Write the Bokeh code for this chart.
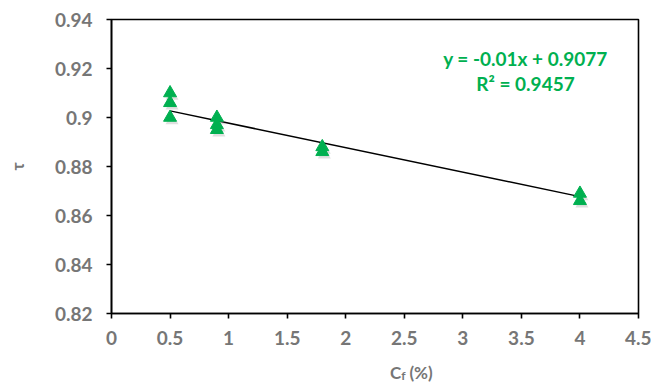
from bokeh.plotting import figure
from bokeh.layouts import column
from bokeh.models import ColumnDataSource, Range1d, Label, FixedTicker
from bokeh.core.properties import value
from bokeh.transform import dodge
from bokeh.embed import file_html
from bokeh.resources import INLINE

# Measurements: fiber content Cf (%) vs tortuosity tau
cf = [0.5, 0.5, 0.5, 0.9, 0.9, 0.9, 1.8, 1.8, 4.0, 4.0]
tau = [0.910, 0.906, 0.900, 0.900, 0.897, 0.895, 0.888, 0.886, 0.869, 0.866]

# Linear trend line as stated in the equation
slope = -0.01
intercept = 0.9077
r_squared = 0.9457
trend_x = [0.5, 4.0]

x_ticks = [0, 0.5, 1, 1.5, 2, 2.5, 3, 3.5, 4, 4.5]
y_ticks = [0.82, 0.84, 0.86, 0.88, 0.90, 0.92, 0.94]
x_tick_labels = {0: "0", 0.5: "0.5", 1: "1", 1.5: "1.5", 2: "2", 2.5: "2.5",
                 3: "3", 3.5: "3.5", 4: "4", 4.5: "4.5"}
y_tick_labels = {0.82: "0.82", 0.84: "0.84", 0.86: "0.86", 0.88: "0.88",
                 0.9: "0.9", 0.92: "0.92", 0.94: "0.94"}

GREEN = "#00B050"
GREY = "#767676"
FONT = "Lato"

p = figure(width=651, height=358, output_backend="svg", toolbar_location=None,
           x_range=Range1d(0, 4.5), y_range=Range1d(0.82, 0.94),
           min_border_left=111, min_border_right=13, min_border_top=19,
           min_border_bottom=45)
p.outline_line_color = "black"
p.outline_line_width = 1.6
p.xgrid.visible = False
p.ygrid.visible = False
p.background_fill_color = "white"
p.border_fill_color = "white"

for ax in (p.xaxis[0], p.yaxis[0]):
    ax.axis_line_color = "black"
    ax.axis_line_width = 1.6
    ax.major_tick_line_color = "black"
    ax.major_tick_line_width = 1.6
    ax.major_tick_out = 5
    ax.major_tick_in = 0
    ax.minor_tick_line_color = None
    ax.major_label_text_font = FONT
    ax.major_label_text_font_style = "bold"
    ax.major_label_text_font_size = "19px"
    ax.major_label_text_color = GREY

p.xaxis.ticker = FixedTicker(ticks=x_ticks)
p.yaxis.ticker = FixedTicker(ticks=y_ticks)
p.xaxis.major_label_overrides = x_tick_labels
p.yaxis.major_label_overrides = y_tick_labels
p.xaxis.major_label_standoff = 12
p.yaxis.major_label_standoff = 14

p.yaxis.axis_label = "τ"
p.yaxis.axis_label_text_font = FONT
p.yaxis.axis_label_text_font_style = "bold"
p.yaxis.axis_label_text_font_size = "17px"
p.yaxis.axis_label_text_color = GREY
p.yaxis.axis_label_standoff = 24

# Trend line
trend_y = [slope * x + intercept for x in trend_x]
p.line(trend_x, trend_y, line_color="black", line_width=1.5)

# Markers with a soft drop shadow
src = ColumnDataSource(dict(x=cf, y=tau))
p.scatter(x=dodge("x", 2.0 / 117.0, range=p.x_range),
          y=dodge("y", -3.0 / 2450.0, range=p.y_range), source=src,
          marker="triangle", size=13, fill_color="#808080", fill_alpha=0.25,
          line_color=None)
p.scatter(x="x", y="y", source=src, marker="triangle", size=13,
          fill_color=GREEN, line_color=GREEN)

# Equation and R² text
eq_style = dict(text_font=FONT, text_font_style="bold", text_font_size="19px",
                text_color=GREEN, text_align="center", text_baseline="middle")
p.add_layout(Label(x=3.535, y=0.9241,
                   text=f"y = {slope}x + {intercept}", **eq_style))
p.add_layout(Label(x=3.535, y=0.9139,
                   text=f"R² = {r_squared}", **eq_style))

# Strip below the chart holding the x axis title (C with subscript f)
strip = figure(width=651, height=27, output_backend="svg", toolbar_location=None,
               x_range=Range1d(0, 651), y_range=Range1d(0, 27),
               min_border=0, outline_line_color=None)
strip.xaxis.visible = False
strip.yaxis.visible = False
strip.xgrid.visible = False
strip.ygrid.visible = False

t_style = dict(text_font=value(FONT), text_font_style="bold", text_color=GREY,
               text_baseline="middle")
strip.text(x=[358], y=[13], text=["C"], text_align="right",
           text_font_size="17px", **t_style)
strip.text(x=[358], y=[10], text=["f"], text_align="left",
           text_font_size="12px", **t_style)
strip.text(x=[368], y=[13], text=["(%)"], text_align="left",
           text_font_size="17px", **t_style)

layout = column(p, strip, spacing=0)
open("out.html", "w").write(file_html(layout, INLINE))
